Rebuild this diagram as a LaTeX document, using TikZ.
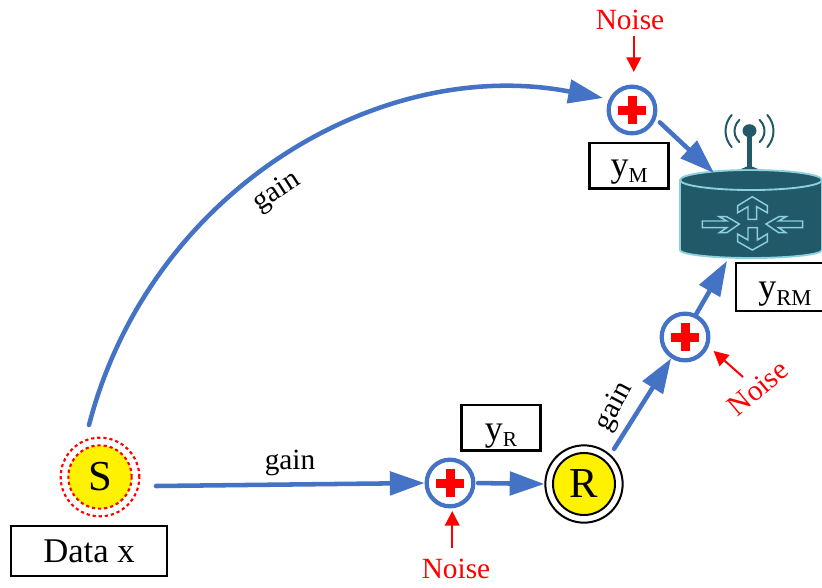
\documentclass[tikz,border=0pt]{standalone}
\usepackage{fontspec}
\setmainfont{Liberation Serif}
\usetikzlibrary{arrows.meta}
\definecolor{lnblue}{HTML}{4472C4}
\definecolor{rteal}{HTML}{215968}
\definecolor{rlight}{HTML}{8CCFDD}
\newcommand{\pxfont}[1]{\fontsize{#1}{#1}\selectfont}
\newcommand{\subtext}[2]{\pxfont{27}y\raisebox{-5pt}{\pxfont{#1}#2}}
\tikzset{
  x=0.75pt,y=-0.75pt,
  flow/.style={draw=lnblue,line width=3.4pt,line cap=round,-{Triangle[length=26pt,width=17.5pt]}},
  noisearrow/.style={draw=red,line width=1.5pt,-{Triangle[length=11pt,width=11pt]}},
  noisetext/.style={text=red,font=\pxfont{22},inner sep=0pt},
  gaintext/.style={text=black,font=\pxfont{22},inner sep=0pt},
  sumnode/.style={circle,draw=lnblue,line width=3.2pt,fill=white,minimum size=35pt,inner sep=0pt},
  labelbox/.style={draw=black,line width=2pt,fill=white,inner sep=0pt},
  ringnode/.style={circle,fill=yellow,inner sep=0pt,font=\pxfont{32}},
  dotring/.style={circle,draw=red,line width=1.6pt,dash pattern=on 2.4pt off 2.2pt,inner sep=0pt},
  rarrow/.style={draw=rlight,line width=1.1pt,line join=miter},
  wave/.style={draw=rteal,line width=1.5pt,line cap=round},
}
\newcommand{\redcross}[2]{%
  \fill[red] (#1-14,#2-4.5) rectangle (#1+14,#2+4.5);
  \fill[red] (#1-4.5,#2-14) rectangle (#1+4.5,#2+14);}
\begin{document}
\begin{tikzpicture}
\useasboundingbox (0,0) rectangle (822,587);
% router body
\fill[rteal] (680,180) -- (680,250) arc[start angle=180,end angle=0,x radius=71,y radius=8] -- (822,180) arc[start angle=0,end angle=-180,x radius=71,y radius=10] -- cycle;
\draw[rlight,line width=1.4pt] (680,180) -- (680,250) arc[start angle=180,end angle=0,x radius=71,y radius=8] -- (822,180) arc[start angle=0,end angle=-180,x radius=71,y radius=10] -- cycle;
\draw[rlight,line width=1.4pt] (680,180) arc[start angle=180,end angle=0,x radius=71,y radius=10];
% router arrows
\draw[rarrow] (752.3,196.7) -- (767.3,205.7) -- (767.3,212.7) -- (756.7,206.7) -- (756.7,219.3) -- (748,219.3) -- (748,206.7) -- (737.7,212.7) -- (737.7,205.7) -- cycle;
\draw[rarrow] (752.3,250) -- (767.3,241.7) -- (767.3,234) -- (757.3,240) -- (757.3,227.7) -- (748,227.7) -- (748,240) -- (737.7,234) -- (737.7,241.7) -- cycle;
\draw[rarrow] (739.3,224) -- (726.7,216.7) -- (719.3,216.7) -- (726.7,221) -- (702.3,221) -- (702.3,227.7) -- (726.7,227.7) -- (719.3,232.7) -- (726.7,232.7) -- cycle;
\draw[rarrow] (766,224) -- (778.7,216.7) -- (786,216.7) -- (778.7,221) -- (802.7,221) -- (802.7,227.7) -- (778.7,227.7) -- (786,232.7) -- (778.7,232.7) -- cycle;
% antenna
\fill[rteal] (747,131) rectangle (752,168);
\fill[rteal] (741,169) -- (747,166.5) -- (752,166.5) -- (758,169) -- cycle;
\fill[rteal] (749.5,130.7) ellipse[x radius=7,y radius=6.5];
\draw[wave] (749.5,131) ++(132:15) arc[start angle=132,end angle=228,radius=15];
\draw[wave] (749.5,131) ++(48:15) arc[start angle=48,end angle=-48,radius=15];
\draw[wave] (749.5,131) ++(138:24) arc[start angle=138,end angle=222,radius=24];
\draw[wave] (749.5,131) ++(42:24) arc[start angle=42,end angle=-42,radius=24];
\coordinate (rtrtop) at (714,173);
\coordinate (rtrbot) at (727,261);
% round nodes
\node[ringnode,minimum size=47.5pt] (S) at (100,477) {S};
\node[dotring,minimum size=47.5pt] (Sin) at (100,477) {};
\node[dotring,minimum size=59pt] (Sout) at (100,477) {};
\node[circle,draw=black,line width=1.5pt,fill=white,minimum size=58pt,inner sep=0pt] (Rout) at (584,484) {};
\node[ringnode,draw=black,line width=1.5pt,minimum size=46.5pt] (R) at (584,484) {R};
\node[sumnode] (sm) at (632,110) {};
\redcross{632}{110}
\node[sumnode] (sr) at (450,483) {};
\redcross{450}{483}
\node[sumnode] (srm) at (685,337) {};
\redcross{685}{337}
% label boxes
\node[labelbox,minimum width=117pt,minimum height=37.5pt,font=\pxfont{26}] (data) at (89,551) {Data x};
\node[labelbox,minimum width=59pt,minimum height=34pt,text height=20pt,text depth=4.2pt] (ym) at (629,165.5) {\subtext{16}{M}};
\node[labelbox,minimum width=59pt,minimum height=34pt,text height=22pt,text depth=3.2pt] (yr) at (501,427.5) {\subtext{16}{R}};
\node[inner sep=0pt,text height=21pt,text depth=3.8pt] (yrm) at (785,287) {\subtext{17}{RM}};
\draw[draw=black,line width=2pt] (822,263) -- (736,263) -- (736,311) -- (822,311);
% noise labels
\node[noisetext] (nm) at (630,20) {Noise};
\node[noisetext] (nr) at (456,569) {Noise};
\node[noisetext,rotate=40] (nrm) at (758,388) {Noise};
\coordinate (nrmtail) at (743,377);
% gain labels
\node[gaintext,rotate=33] (g1) at (277,192) {gain};
\node[gaintext] (g2) at (290,463) {gain};
\node[gaintext,rotate=62] (g3) at (615,407) {gain};
% connectors
\coordinate (Sup) at (89,425);
\coordinate (Sright) at (156,486);
\draw[flow] (Sup) .. controls (150,190) and (380,55) .. (603,98);
\draw[flow] (Sright) -- (sr.west);
\draw[flow,shorten <=2pt] (sr.east) -- (Rout.west);
\draw[flow,shorten <=5pt] (Rout.48) -- (srm.237);
\draw[flow] (srm.64) -- (rtrbot);
\draw[flow,shorten <=4pt] (sm.-20) -- (rtrtop);
\draw[noisearrow,shorten <=4.5pt,shorten >=9.5pt] (sm.86 |- nm.south) -- (sm.86);
\draw[noisearrow,shorten <=8pt,shorten >=2pt] (sr.-85 |- nr.north) -- (sr.-85);
\draw[noisearrow,shorten >=5pt] (nrmtail) -- (srm.-22);
\end{tikzpicture}
\end{document}
